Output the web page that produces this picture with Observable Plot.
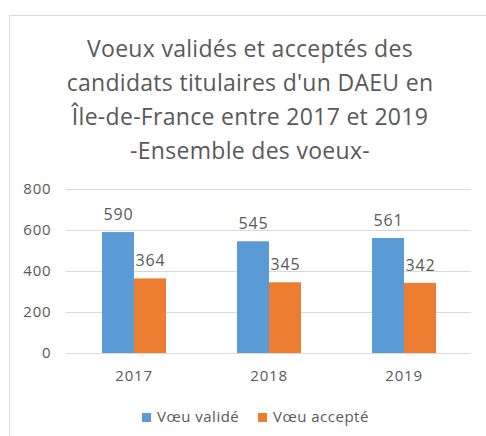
<!DOCTYPE html>
<html>
<head>
<meta charset="utf-8">
<script src="https://cdn.jsdelivr.net/npm/d3@7"></script>
<script src="https://cdn.jsdelivr.net/npm/@observablehq/plot@0.6"></script>
<style>
  html, body { margin: 0; padding: 0; background: #fff; overflow: hidden; width: 486px; height: 436px; }
  #frame { position: absolute; left: 9px; top: 15px; width: 490px; height: 440px; border: 1px solid #d9d9d9; box-sizing: border-box; }
  #title { position: absolute; left: 0; top: 31px; width: 500px; text-align: center; font-family: "Open Sans", sans-serif; font-size: 23px; line-height: 34px; color: #595959; letter-spacing: 0.3px; }
  #chart { position: absolute; left: 0; top: 170px; }
  #legend { position: absolute; top: 406px; left: 0; width: 486px; font-family: "Open Sans", sans-serif; font-size: 15px; color: #595959; letter-spacing: 0.5px; }
  .item { position: absolute; top: 0; white-space: nowrap; line-height: 20px; }
  .sw { display: inline-block; width: 9px; height: 9px; margin-right: 6px; vertical-align: 0px; }
</style>
</head>
<body>
<div id="frame"></div>
<div id="title">Voeux validés et acceptés des<br>candidats titulaires d'un DAEU en<br>Île-de-France entre 2017 et 2019<br>-Ensemble des voeux-</div>
<div id="chart"></div>
<div id="legend"></div>
<script>
const years = ["2017", "2018", "2019"];
const series = ["Vœu validé", "Vœu accepté"];
const valides = [590, 545, 561];
const acceptes = [364, 345, 342];
const yTicks = [0, 200, 400, 600, 800];
const colors = ["#5B9BD5", "#ED7D31"];

const data = [];
years.forEach((yr, i) => {
  data.push({year: yr, series: series[0], value: valides[i]});
  data.push({year: yr, series: series[1], value: acceptes[i]});
});

const chart = Plot.plot({
  width: 486,
  height: 215,
  marginTop: 19,
  marginBottom: 32,
  marginLeft: 65,
  marginRight: 15,
  style: {fontFamily: "Open Sans, sans-serif", fontSize: "15px", color: "#595959", letterSpacing: "0.8px", background: "transparent"},
  fx: {domain: years, padding: 0},
  x: {domain: series, paddingInner: 0, paddingOuter: 1.08, axis: null},
  y: {domain: [0, 800]},
  color: {domain: series, range: colors},
  marks: [
    Plot.ruleY(yTicks, {stroke: "#d9d9d9", strokeWidth: 1}),
    Plot.barY(data, {fx: "year", x: "series", y: "value", fill: "series", inset: 0}),
    Plot.text(data, {fx: "year", x: "series", y: "value", text: d => String(d.value), dy: -18, fill: "#595959", fontSize: 16}),
    Plot.axisY({ticks: yTicks, tickSize: 0, tickPadding: 15, label: null, fill: "#595959"}),
    Plot.axisFx({anchor: "bottom", tickSize: 0, tickPadding: 17, label: null, fill: "#595959"})
  ]
});
document.getElementById("chart").appendChild(chart);

const legend = document.getElementById("legend");
const lefts = [142, 258];
series.forEach((s, i) => {
  const it = document.createElement("div");
  it.className = "item";
  it.style.left = lefts[i] + "px";
  const sw = document.createElement("span");
  sw.className = "sw";
  sw.style.background = colors[i];
  it.appendChild(sw);
  it.appendChild(document.createTextNode(s));
  legend.appendChild(it);
});
</script>
</body>
</html>
